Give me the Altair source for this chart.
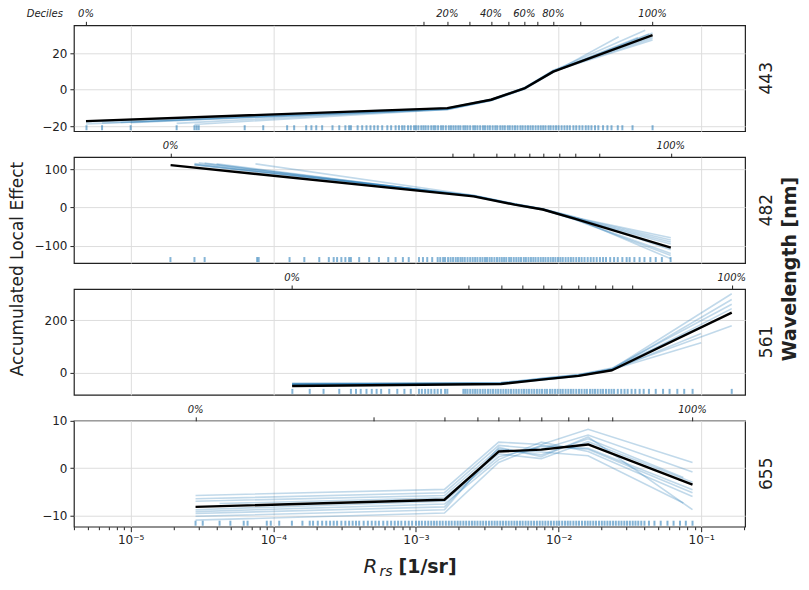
import json
import altair as alt
import pandas as pd

# ---------------- layout constants ----------------
X_DOMAIN = [4.0e-6, 0.203]
W, H, GAP = 672, 106, 26
BLUE = "#1f77b4"
INK = "#222222"
GRID = "#dddddd"
FONT = "DejaVu Sans"

# ---------------- axis ticks ----------------
decades = [1e-5, 1e-4, 1e-3, 1e-2, 1e-1]
decade_labels = ["10⁻⁵", "10⁻⁴", "10⁻³", "10⁻²", "10⁻¹"]
minor_ticks = [m * 10.0 ** e for e in range(-6, 0) for m in range(2, 10)
               if X_DOMAIN[0] <= m * 10.0 ** e <= X_DOMAIN[1]]

wavelengths = ["443", "482", "561", "655"]
labels_443 = ["0%", "", "20%", "", "40%", "", "60%", "", "80%", "", "100%"]
labels_other = ["0%", "", "", "", "", "", "", "", "", "", "100%"]


def dec(exp, mantissas):
    return [m * 10.0 ** exp for m in mantissas]


# ---------------- 443 nm ----------------
deciles_443 = [4.86e-6, 1.135e-3, 1.66e-3, 2.36e-3, 3.36e-3, 4.42e-3, 5.75e-3, 7.05e-3, 9.18e-3, 1.42e-2, 4.56e-2]
ale_x_443 = [4.86e-6, 1.66e-3, 3.36e-3, 5.75e-3, 9.18e-3, 4.56e-2]
ale_y_443 = [-17.2, -10.1, -5.5, 0.7, 9.9, 29.9]
boot_start_443 = [4.86e-6, 6.3e-6, 1.0e-5, 2.8e-5, 4.86e-6, 8.5e-6, 2.1e-5, 4.86e-6]
boot_end_443 = [4.56e-2, 4.05e-2, 4.56e-2, 2.64e-2, 3.6e-2, 4.56e-2, 4.3e-2, 4.56e-2]
boot_y_443 = [
    [-17.6, -10.4, -5.7, 0.5, 10.1, 27.2],
    [-18.2, -10.3, -5.4, 0.9, 10.4, 32.5],
    [-18.0, -10.6, -5.8, 0.4, 9.7, 31.0],
    [-19.0, -10.8, -6.0, 0.2, 9.5, 29.0],
    [-18.8, -10.9, -5.9, 0.6, 10.0, 28.5],
    [-17.9, -10.2, -5.3, 1.0, 10.6, 29.0],
    [-18.4, -10.5, -5.6, 0.8, 9.8, 30.5],
    [-17.3, -10.0, -5.2, 1.1, 10.2, 28.2],
]
rug_443 = (dec(-6, [4.9, 6.3])
           + dec(-5, [1.0, 2.1, 2.8, 2.9, 3.0, 6.3, 8.5])
           + dec(-4, [1.25, 1.4, 1.7, 1.85, 2.0, 2.2, 2.6, 2.9, 3.2, 3.4, 3.5, 3.9, 4.2, 4.5, 4.8, 5.1,
                      5.4, 5.8, 6.3, 6.7, 7.2, 7.6, 8.0, 8.3, 8.8, 9.2, 9.7])
           + dec(-3, [1.0, 1.04, 1.09, 1.13, 1.17, 1.22, 1.28, 1.33, 1.37, 1.43, 1.5, 1.55, 1.62, 1.7,
                      1.76, 1.83, 1.9, 1.98, 2.05, 2.15, 2.22, 2.3, 2.4, 2.52, 2.6, 2.7, 2.82, 2.95,
                      3.05, 3.18, 3.3, 3.45, 3.6, 3.72, 3.9, 4.05, 4.2, 4.4, 4.55, 4.75, 4.95, 5.15,
                      5.4, 5.6, 5.85, 6.1, 6.35, 6.6, 6.9, 7.2, 7.5, 7.8, 8.1, 8.5, 8.8, 9.2, 9.6])
           + dec(-2, [1.0, 1.05, 1.1, 1.15, 1.2, 1.27, 1.33, 1.4, 1.47, 1.55, 1.62, 1.7, 1.8, 1.9,
                      2.05, 2.2, 2.35, 2.6, 2.8, 3.3, 4.56]))
y_domain_443 = [-22.7, 35.2]
y_ticks_443 = [-20, 0, 20]

# ---------------- 482 nm ----------------
deciles_482 = [1.905e-5, 1.79e-3, 2.54e-3, 3.66e-3, 4.92e-3, 6.27e-3, 7.76e-3, 1.016e-2, 1.31e-2, 1.93e-2, 6.12e-2]
ale_x_482 = [1.905e-5, 2.54e-3, 4.92e-3, 7.76e-3, 1.31e-2, 6.12e-2]
ale_y_482 = [110.7, 29.1, 7.7, -5.1, -29.6, -104.6]
boot_start_482 = [2.8e-5, 2.8e-5, 3.3e-5, 7.5e-5, 2.8e-5, 4.0e-5, 2.8e-5, 3.0e-5]
boot_end_482 = [6.12e-2] * 8
boot_y_482 = [
    [115, 30.5, 8.5, -4.5, -26, -79],
    [113, 31, 9, -4, -27, -85],
    [116, 29.5, 7.5, -5.5, -30, -95],
    [114, 32, 10, -3.5, -25, -110],
    [111, 30, 8, -5, -31, -120],
    [114, 28.5, 7, -6, -32, -125],
    [112, 31.5, 9.5, -4.2, -28, -134],
    [117, 30, 8.2, -4.8, -29, -90],
]
rug_482 = (dec(-5, [1.9, 2.8, 3.3, 7.7, 7.9])
           + dec(-4, [1.3, 1.65, 2.1, 2.45, 2.65, 2.8, 3.0, 3.2, 3.4, 3.5, 4.0, 4.7, 5.5, 6.4, 7.2,
                      8.1, 8.9])
           + dec(-3, [1.05, 1.12, 1.2, 1.3, 1.42, 1.48, 1.55, 1.6, 1.68, 1.75, 1.82, 1.9, 1.97, 2.05,
                      2.12, 2.2, 2.3, 2.4, 2.5, 2.6, 2.7, 2.82, 2.93, 3.05, 3.15, 3.28, 3.4, 3.55,
                      3.7, 3.85, 4.0, 4.15, 4.3, 4.5, 4.65, 4.85, 5.05, 5.25, 5.45, 5.7, 5.9, 6.15,
                      6.4, 6.65, 6.9, 7.2, 7.5, 7.8, 8.1, 8.45, 8.8, 9.15, 9.5, 9.9])
           + dec(-2, [1.03, 1.07, 1.12, 1.17, 1.22, 1.27, 1.33, 1.39, 1.45, 1.52, 1.6, 1.68, 1.76,
                      1.85, 1.95, 2.05, 2.15, 2.3, 2.45, 2.6, 2.8, 3.0, 3.15, 3.4, 3.7, 4.0, 4.4,
                      4.8, 5.3, 6.1]))
y_domain_482 = [-145, 131.6]
y_ticks_482 = [-100, 0, 100]

# ---------------- 561 nm ----------------
deciles_561 = [1.355e-4, 2.34e-3, 3.94e-3, 5.60e-3, 7.85e-3, 1.04e-2, 1.38e-2, 1.81e-2, 2.37e-2, 3.27e-2, 0.1637]
ale_x_561 = [1.355e-4, 3.94e-3, 7.85e-3, 1.38e-2, 2.37e-2, 0.1637]
ale_y_561 = [-50, -42.4, -25, -11.3, 10, 230]
boot_start_561 = [1.355e-4] * 8
boot_end_561 = [0.1637, 0.1637, 0.1637, 0.1637, 0.1637, 0.1, 0.1, 0.1]
boot_y_561 = [
    [-40, -38, -22, -8, 15, 302],
    [-42, -40, -24, -10, 12, 280],
    [-44, -41, -20, -6, 18, 262],
    [-46, -39, -26, -12, 10, 245],
    [-41, -42, -23, -9, 14, 180],
    [-45, -37, -21, -7, 16, 176],
    [-43, -40, -25, -11, 11, 150],
    [-47, -43, -27, -13, 13, 115],
]
rug_561 = (dec(-4, [1.36, 1.8, 2.25, 2.9, 3.5, 3.8, 4.1, 4.5, 4.9, 5.3, 5.7, 6.5, 7.4, 8.3, 9.2])
           + dec(-3, [1.05, 1.1, 1.16, 1.22, 1.28, 1.35, 1.42, 1.5, 1.6, 1.66, 2.15, 2.22, 2.3, 2.4,
                      2.5, 2.6, 2.7, 2.82, 2.94, 3.06, 3.2, 3.33, 3.47, 3.62, 3.77, 3.93, 4.1, 4.27,
                      4.45, 4.64, 4.84, 5.05, 5.26, 5.5, 5.72, 5.96, 6.2, 6.47, 6.75, 7.05, 7.35,
                      7.65, 8.0, 8.3, 8.7, 9.05, 9.45, 9.85])
           + dec(-2, [1.03, 1.07, 1.12, 1.17, 1.22, 1.27, 1.33, 1.39, 1.45, 1.52, 1.58, 1.66, 1.73,
                      1.8, 1.88, 1.97, 2.05, 2.15, 2.25, 2.35, 2.45, 2.6, 2.75, 2.9, 3.05, 3.25,
                      3.45, 3.7, 3.95, 4.3, 4.8, 5.4, 6.0, 6.8, 7.6, 8.7])
           + dec(-1, [1.637]))
y_domain_561 = [-84, 320]
y_ticks_561 = [0, 200]

# ---------------- 655 nm ----------------
deciles_655 = [2.85e-5, 5.06e-4, 1.585e-3, 2.71e-3, 3.80e-3, 5.31e-3, 7.57e-3, 1.175e-2, 1.61e-2, 2.37e-2, 8.69e-2]
ale_x_655 = [2.85e-5, 1.585e-3, 3.80e-3, 7.57e-3, 1.61e-2, 8.69e-2]
ale_y_655 = [-8.2, -6.7, 3.5, 3.9, 5.0, -3.5]
boot_start_655 = [2.85e-5, 2.85e-5, 2.85e-5, 4.2e-5, 2.85e-5, 2.85e-5, 2.85e-5, 2.85e-5, 2.85e-5]
boot_end_655 = [8.69e-2, 8.69e-2, 7.5e-2, 8.69e-2, 8.69e-2, 8.69e-2, 7.5e-2, 8.69e-2, 8.69e-2]
boot_y_655 = [
    [-5.8, -4.5, 5.5, 5.0, 8.2, 1.2],
    [-6.5, -5.2, 4.8, 4.0, 7.0, -0.8],
    [-7.0, -5.8, 4.1, 2.8, 6.2, -2.0],
    [-7.5, -6.3, 3.0, 2.0, 5.6, -3.0],
    [-8.8, -7.0, 2.4, 4.6, 4.2, -4.6],
    [-9.2, -7.6, 1.8, 5.5, 3.5, -6.0],
    [-9.6, -8.2, 3.8, 3.4, 2.6, -7.4],
    [-10.2, -8.8, 4.4, 2.4, 6.6, -8.8],
    [-11.0, -9.5, 1.2, 4.8, 4.0, -5.2],
]
rug_655 = (dec(-5, [2.85, 3.2, 4.2, 5.0, 6.2, 6.6, 9.0, 9.6])
           + dec(-4, [1.1, 1.35, 1.6, 1.8, 1.9, 2.05, 2.2, 2.35, 2.5, 2.65, 2.8, 3.0, 3.2, 3.4, 3.6,
                      3.8, 4.0, 4.3, 4.6, 4.9, 5.2, 5.5, 5.9, 6.3, 6.7, 7.1, 7.5, 7.9, 8.4, 8.9, 9.4])
           + dec(-3, [1.0, 1.05, 1.1, 1.16, 1.22, 1.28, 1.34, 1.4, 1.47, 1.54, 1.62, 1.7, 1.78, 1.87,
                      1.96, 2.05, 2.15, 2.25, 2.36, 2.47, 2.58, 2.7, 2.83, 2.96, 3.1, 3.25, 3.4,
                      3.56, 3.72, 3.9, 4.08, 4.27, 4.47, 4.68, 4.9, 5.12, 5.36, 5.6, 5.87, 6.14,
                      6.43, 6.73, 7.05, 7.38, 7.72, 8.08, 8.46, 8.85, 9.26, 9.7])
           + dec(-2, [1.01, 1.06, 1.11, 1.16, 1.21, 1.27, 1.33, 1.39, 1.46, 1.53, 1.6, 1.67, 1.75,
                      1.83, 1.92, 2.01, 2.1, 2.2, 2.3, 2.41, 2.52, 2.64, 2.76, 2.89, 3.02, 3.16,
                      3.31, 3.46, 3.62, 3.8, 4.0, 4.3, 4.7, 5.2, 5.8, 6.4, 7.1, 7.8, 8.69]))
y_domain_655 = [-12.4, 10]
y_ticks_655 = [-10, 0, 10]

panels_data = [
    dict(name=wavelengths[0], deciles=deciles_443, dlabels=labels_443, ax=ale_x_443, ay=ale_y_443,
         bs=boot_start_443, be=boot_end_443, by=boot_y_443, rug=rug_443, yd=y_domain_443, yt=y_ticks_443),
    dict(name=wavelengths[1], deciles=deciles_482, dlabels=labels_other, ax=ale_x_482, ay=ale_y_482,
         bs=boot_start_482, be=boot_end_482, by=boot_y_482, rug=rug_482, yd=y_domain_482, yt=y_ticks_482),
    dict(name=wavelengths[2], deciles=deciles_561, dlabels=labels_other, ax=ale_x_561, ay=ale_y_561,
         bs=boot_start_561, be=boot_end_561, by=boot_y_561, rug=rug_561, yd=y_domain_561, yt=y_ticks_561),
    dict(name=wavelengths[3], deciles=deciles_655, dlabels=labels_other, ax=ale_x_655, ay=ale_y_655,
         bs=boot_start_655, be=boot_end_655, by=boot_y_655, rug=rug_655, yd=y_domain_655, yt=y_ticks_655),
]

is_decade = f"indexof({json.dumps(decades)}, datum.value) >= 0"
label_expr = (f"{json.dumps(decade_labels, ensure_ascii=False)}"
              f"[indexof({json.dumps(decades)}, datum.value)] || ''")


def text_layer(text, x, y, **kw):
    return alt.Chart(pd.DataFrame({"t": [text]})).mark_text(font=FONT, color=INK, **kw).encode(
        text="t:N", x=alt.value(x), y=alt.value(y))


def make_panel(i, p):
    last = i == len(panels_data) - 1
    xs = alt.Scale(type="log", domain=X_DOMAIN, nice=False)
    ys = alt.Scale(domain=p["yd"], nice=False, zero=False)
    if last:
        x_axis = alt.Axis(values=decades + minor_ticks, labelExpr=label_expr, title=None,
                          domain=False, grid=True, gridColor=GRID, labelOverlap=False,
                          tickColor=INK, labelPadding=3, labelFontSize=12,
                          tickSize={"condition": {"test": is_decade, "value": 5}, "value": 3},
                          gridOpacity={"condition": {"test": is_decade, "value": 1}, "value": 0})
    else:
        x_axis = alt.Axis(values=decades, labels=False, ticks=False, domain=False, grid=True,
                          gridColor=GRID, title=None)
    y_axis = alt.Axis(values=p["yt"], title=None, grid=True, gridColor=GRID, domain=False,
                      tickSize=4, tickColor=INK, labelPadding=3, format="d", labelFontSize=12)

    rows = []
    for k, yy in enumerate(p["by"]):
        xx = [p["bs"][k]] + p["ax"][1:5] + [p["be"][k]]
        for a, b in zip(xx, yy):
            rows.append({"x": a, "y": b, "line": k})
    df_boot = pd.DataFrame(rows)
    df_ale = pd.DataFrame({"x": p["ax"], "y": p["ay"]})
    df_rug = pd.DataFrame({"x": p["rug"]})
    df_dec = pd.DataFrame({"x": p["deciles"], "label": p["dlabels"]})

    rug = alt.Chart(df_rug).mark_rule(color=BLUE, opacity=0.55, strokeWidth=2).encode(
        x=alt.X("x:Q", scale=xs, axis=None), y=alt.value(H - 6), y2=alt.value(H - 1))
    boot = alt.Chart(df_boot).mark_line(color=BLUE, opacity=0.28, strokeWidth=1.6).encode(
        x=alt.X("x:Q", scale=xs, axis=x_axis), y=alt.Y("y:Q", scale=ys, axis=y_axis),
        detail="line:N")
    ale = alt.Chart(df_ale).mark_line(color="black", strokeWidth=2.4, strokeJoin="round").encode(
        x=alt.X("x:Q", scale=xs, axis=None), y=alt.Y("y:Q", scale=ys, axis=y_axis))
    decs = alt.Chart(df_dec).mark_text(font=FONT, fontSize=10, fontStyle="italic",
                                       baseline="alphabetic", color=INK).encode(
        x=alt.X("x:Q", scale=xs, axis=alt.Axis(orient="top", values=p["deciles"], labels=False,
                                               ticks=True, tickSize=4, tickColor=INK, domain=False,
                                               grid=False, title=None)),
        y=alt.value(-8), text="label:N")
    layers = [rug, boot, ale, decs,
              text_layer(p["name"], W + 22, H / 2, fontSize=17, angle=270, align="center",
                         baseline="middle")]
    if i == 0:
        layers.append(text_layer("Deciles", -11, -8, fontSize=10, fontStyle="italic",
                                 align="right", baseline="alphabetic"))
    if i == 1:
        layers.append(text_layer("Accumulated Local Effect", -56, H + 6, fontSize=17, angle=270,
                                 align="center", baseline="middle"))
        layers.append(text_layer("Wavelength [nm]", W + 45, H + 6, fontSize=19,
                                 fontWeight="bold", angle=270, align="center",
                                 baseline="middle"))
    if last:
        layers.append(text_layer("R", 290, H + 46, fontSize=20, fontStyle="italic",
                                 align="left", baseline="alphabetic"))
        layers.append(text_layer("rs", 306, H + 49, fontSize=14, fontStyle="italic",
                                 align="left", baseline="alphabetic"))
        layers.append(text_layer("[1/sr]", 325, H + 46, fontSize=19, fontWeight="bold",
                                 align="left", baseline="alphabetic"))
    return alt.layer(*layers).resolve_axis(x="independent").properties(width=W, height=H)


chart = alt.vconcat(*[make_panel(i, p) for i, p in enumerate(panels_data)],
                    spacing=GAP, bounds="flush").resolve_scale(
    x="independent", y="independent").properties(
    padding={"left": 0, "top": 0, "right": 0, "bottom": 0}).configure_view(
    stroke=INK, strokeWidth=1.2).configure_axis(labelFont=FONT, labelColor=INK)

chart.save("out.html", embed_options={"renderer": "svg", "actions": False})
